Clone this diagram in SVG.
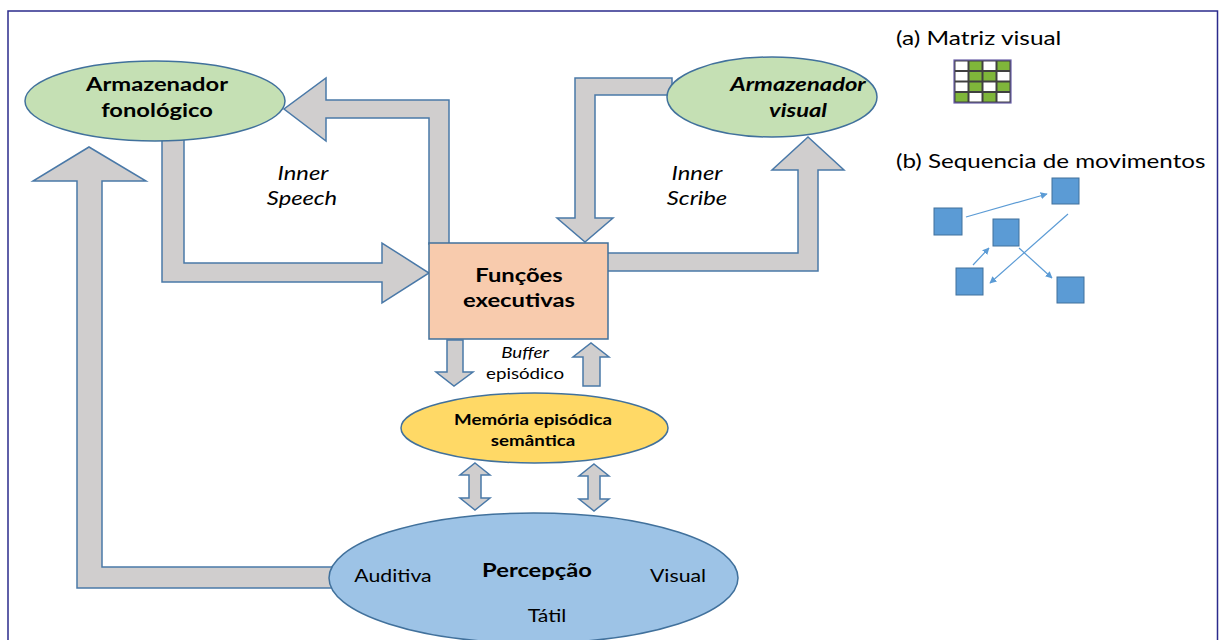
<svg xmlns="http://www.w3.org/2000/svg" width="1219" height="640" viewBox="0 0 1219 640">
  <style>
    .frame { fill: #ffffff; stroke: #2b2b8c; stroke-width: 1.5; }
    .block { fill: #d0cece; stroke: #4a79a8; stroke-width: 1.5; stroke-linejoin: miter; }
    .store { fill: #c5e0b4; stroke: #41719c; stroke-width: 1.5; }
    .exec { fill: #f8cbad; stroke: #41719c; stroke-width: 1.5; }
    .memo { fill: #ffd966; stroke: #41719c; stroke-width: 1.5; }
    .perc { fill: #9dc3e6; stroke: #41719c; stroke-width: 1.5; }
    .sq { fill: #5b9bd5; stroke: #41719c; stroke-width: 1; }
    .mv { stroke: #5b9bd5; stroke-width: 1.2; fill: none; marker-end: url(#tip); }
    text { font-family: Lato, "Open Sans", "Liberation Sans", sans-serif; fill: #000; }
    .t-bold { font-weight: bold; font-size: 19px; text-anchor: middle; }
    .t-bi { font-weight: bold; font-style: italic; font-size: 19px; text-anchor: middle; }
    .t-it { font-style: italic; font-size: 19px; text-anchor: middle; }
    .t-small { font-size: 15px; text-anchor: middle; }
    .t-sb { font-weight: bold; font-size: 15px; text-anchor: middle; }
    .t-perc { font-size: 17px; text-anchor: middle; }
    .t-side { font-size: 20px; }
    .cell-w { fill: #ffffff; }
    .cell-g { fill: #7fb63a; }
  </style>
  <defs>
    <marker id="tip" viewBox="0 0 10 10" refX="9" refY="5" markerWidth="7" markerHeight="7" orient="auto" markerUnits="userSpaceOnUse">
      <path d="M0,0 L10,5 L0,10 z" fill="#5b9bd5"/>
    </marker>
  </defs>

  <rect class="frame" x="8" y="11" width="1209.5" height="640"/>

  <!-- block arrows between the stores -->
  <g id="connectors">
    <!-- executive -> phonological store -->
    <polygon class="block" points="449,244 449,100 326,100 326,78 284,109 326,141 326,118 429,118 429,244"/>
    <!-- phonological store -> executive -->
    <polygon class="block" points="162,136 162,282 382,282 382,303 429,273 382,243 382,263 184,263 184,136"/>
    <!-- perception -> phonological store -->
    <polygon class="block" points="333,588 77,588 77,181 33,181 89,147 146,181 102,181 102,567 333,567"/>
    <!-- visual store -> executive -->
    <polygon class="block" points="672,78 575,78 575,218 557,218 585,242 613,218 595,218 595,95 672,95"/>
    <!-- executive -> visual store -->
    <polygon class="block" points="607,253 798,253 798,170 772,170 808,137 844,170 818,170 818,271 607,271"/>
    <!-- episodic buffer -->
    <polygon class="block" points="447,340 447,372 436,372 454,386 473,372 463,372 463,340"/>
    <polygon class="block" points="583,386 583,357 573,357 591,343 609,357 600,357 600,386"/>
    <!-- memory <-> perception -->
    <polygon class="block" points="475,463 490,475 481,475 481,498 490,498 475,510 460,498 469,498 469,475 460,475"/>
    <polygon class="block" points="594,464 609,476 600,476 600,499 609,499 594,511 579,499 588,499 588,476 579,476"/>
  </g>

  <!-- labels are set slightly wide (horizontal scale 1.25) -->
  <g id="fonologico">
    <ellipse class="store" cx="155" cy="101" rx="130" ry="40"/>
    <text class="t-bold" transform="translate(157,91) scale(1.25,1)">Armazenador</text>
    <text class="t-bold" transform="translate(157,117) scale(1.25,1)">fonológico</text>
  </g>

  <g id="visual">
    <ellipse class="store" cx="772" cy="97" rx="105" ry="40"/>
    <text class="t-bi" transform="translate(798,91) scale(1.25,1)">Armazenador</text>
    <text class="t-bi" transform="translate(798,117) scale(1.25,1)">visual</text>
  </g>

  <g id="executivas">
    <rect class="exec" x="429" y="243" width="179" height="96"/>
    <text class="t-bold" transform="translate(519,282) scale(1.25,1)">Funções</text>
    <text class="t-bold" transform="translate(519,307) scale(1.25,1)">executivas</text>
  </g>

  <g id="memoria">
    <ellipse class="memo" cx="534.5" cy="428" rx="133.5" ry="35"/>
    <text class="t-sb" transform="translate(533,425) scale(1.25,1)">Memória episódica</text>
    <text class="t-sb" transform="translate(533,446) scale(1.25,1)">semântica</text>
  </g>

  <g id="percepcao">
    <ellipse class="perc" cx="533.5" cy="578" rx="204.5" ry="65"/>
    <text class="t-perc" transform="translate(393,582) scale(1.25,1)">Auditiva</text>
    <text class="t-bold" transform="translate(537,577) scale(1.25,1)">Percepção</text>
    <text class="t-perc" transform="translate(678,582) scale(1.25,1)">Visual</text>
    <text class="t-perc" transform="translate(547,622) scale(1.25,1)">Tátil</text>
  </g>

  <g id="labels">
    <text class="t-it" transform="translate(303,180) scale(1.25,1)">Inner</text>
    <text class="t-it" transform="translate(302,205) scale(1.25,1)">Speech</text>
    <text class="t-it" transform="translate(697,180) scale(1.25,1)">Inner</text>
    <text class="t-it" transform="translate(697,205) scale(1.25,1)">Scribe</text>
    <text class="t-small" font-style="italic" transform="translate(525,358) scale(1.25,1)">Buffer</text>
    <text class="t-small" transform="translate(525,379) scale(1.25,1)">episódico</text>
  </g>

  <g id="matriz">
    <text class="t-side" transform="translate(896,45) scale(1.22,1)">(a) Matriz visual</text>
    <g transform="translate(954,60)">
      <rect x="0" y="0" width="57" height="43" fill="#404040" stroke="#6a5fa8" stroke-width="1.2"/>
      <!-- row 1 -->
      <rect class="cell-w" x="1.5" y="1.5" width="12" height="8.5"/>
      <rect class="cell-g" x="15.5" y="1.5" width="12" height="8.5"/>
      <rect class="cell-w" x="29.5" y="1.5" width="12" height="8.5"/>
      <rect class="cell-g" x="43.5" y="1.5" width="12" height="8.5"/>
      <!-- row 2 -->
      <rect class="cell-w" x="1.5" y="12" width="12" height="8.5"/>
      <rect class="cell-g" x="15.5" y="12" width="12" height="8.5"/>
      <rect class="cell-g" x="29.5" y="12" width="12" height="8.5"/>
      <rect class="cell-w" x="43.5" y="12" width="12" height="8.5"/>
      <!-- row 3 -->
      <rect class="cell-w" x="1.5" y="22.5" width="12" height="8.5"/>
      <rect class="cell-g" x="15.5" y="22.5" width="12" height="8.5"/>
      <rect class="cell-w" x="29.5" y="22.5" width="12" height="8.5"/>
      <rect class="cell-g" x="43.5" y="22.5" width="12" height="8.5"/>
      <!-- row 4 -->
      <rect class="cell-g" x="1.5" y="33" width="12" height="8.5"/>
      <rect class="cell-w" x="15.5" y="33" width="12" height="8.5"/>
      <rect class="cell-g" x="29.5" y="33" width="12" height="8.5"/>
      <rect class="cell-w" x="43.5" y="33" width="12" height="8.5"/>
    </g>
  </g>

  <g id="sequencia">
    <text class="t-side" transform="translate(896,168) scale(1.21,1)">(b) Sequencia de movimentos</text>
    <rect class="sq" x="934" y="208" width="28" height="27"/>
    <rect class="sq" x="1052" y="178" width="27" height="26"/>
    <rect class="sq" x="993" y="219" width="26" height="27"/>
    <rect class="sq" x="956" y="268" width="27" height="27"/>
    <rect class="sq" x="1057" y="277" width="27" height="26"/>
    <line class="mv" x1="966" y1="217" x2="1047" y2="194"/>
    <line class="mv" x1="1068" y1="214" x2="990" y2="283"/>
    <line class="mv" x1="973" y1="265" x2="989" y2="248"/>
    <line class="mv" x1="1019" y1="248" x2="1052" y2="278"/>
  </g>
</svg>
